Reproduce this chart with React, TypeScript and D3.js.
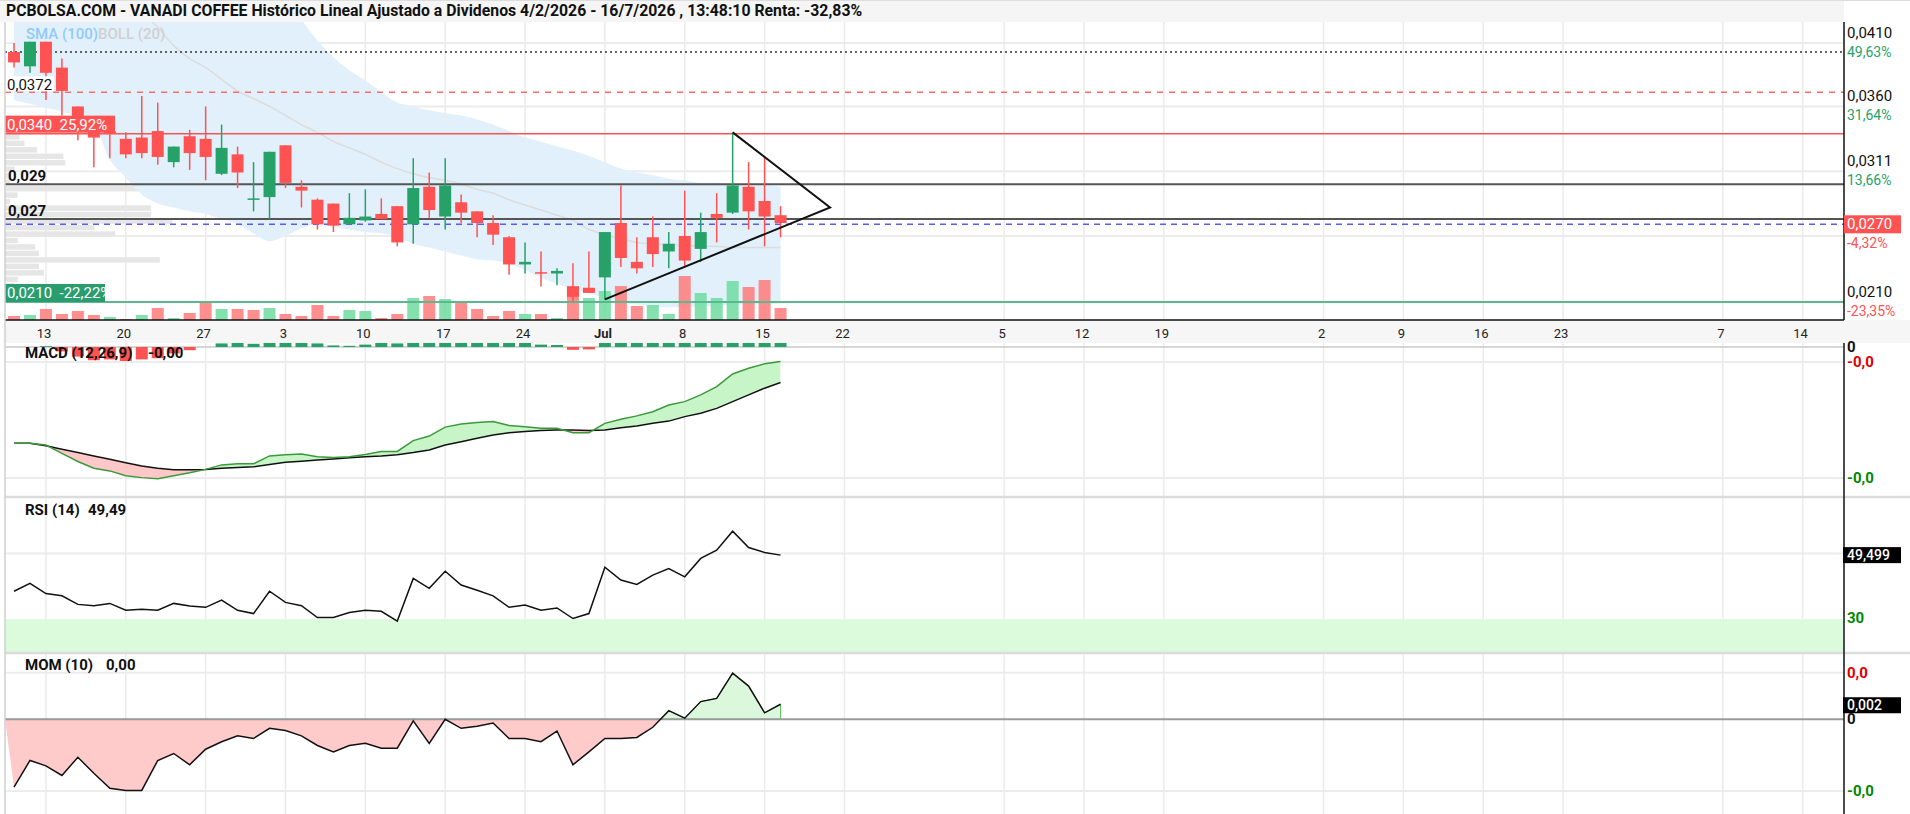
import React from "react";
import * as d3 from "d3";

const W = 1910;
const H = 814;

// daily candles, 11 May -> 16 Jul 2026 (trading days)
const opens = [0.0403, 0.0392, 0.0411, 0.0391, 0.0361, 0.0342, 0.0342, 0.0336, 0.0337, 0.0342, 0.0318, 0.0338, 0.0336, 0.0309, 0.0324, 0.0289, 0.0291, 0.0331, 0.0299, 0.0289, 0.0286, 0.0270, 0.0273, 0.0278, 0.0284, 0.0270, 0.0299, 0.0276, 0.0287, 0.0280, 0.0271, 0.0260, 0.0239, 0.0233, 0.0232, 0.0222, 0.0221, 0.0229, 0.0271, 0.0241, 0.0260, 0.0249, 0.0261, 0.0251, 0.0278, 0.0279, 0.0299, 0.0288, 0.0277];
const highs = [0.0410, 0.0411, 0.0411, 0.0398, 0.0361, 0.0344, 0.0351, 0.0341, 0.0369, 0.0364, 0.0330, 0.0343, 0.0361, 0.0347, 0.0330, 0.0318, 0.0326, 0.0331, 0.0304, 0.0290, 0.0286, 0.0294, 0.0297, 0.0290, 0.0284, 0.0321, 0.0310, 0.0321, 0.0293, 0.0280, 0.0277, 0.0261, 0.0256, 0.0249, 0.0236, 0.0240, 0.0249, 0.0264, 0.0300, 0.0260, 0.0276, 0.0264, 0.0296, 0.0279, 0.0294, 0.0341, 0.0318, 0.0322, 0.0284];
const lows = [0.0391, 0.0387, 0.0366, 0.0354, 0.0335, 0.0314, 0.0321, 0.0321, 0.0321, 0.0316, 0.0314, 0.0312, 0.0304, 0.0308, 0.0298, 0.0280, 0.0274, 0.0298, 0.0283, 0.0266, 0.0264, 0.0270, 0.0272, 0.0274, 0.0253, 0.0255, 0.0275, 0.0266, 0.0271, 0.0260, 0.0254, 0.0231, 0.0232, 0.0222, 0.0223, 0.0210, 0.0217, 0.0212, 0.0237, 0.0232, 0.0237, 0.0236, 0.0238, 0.0241, 0.0256, 0.0278, 0.0266, 0.0253, 0.0260];
const closes = [0.0395, 0.0411, 0.0387, 0.0373, 0.0352, 0.0337, 0.0340, 0.0324, 0.0325, 0.0322, 0.0330, 0.0325, 0.0322, 0.0329, 0.0310, 0.0290, 0.0326, 0.0302, 0.0296, 0.0270, 0.0269, 0.0275, 0.0276, 0.0274, 0.0256, 0.0298, 0.0281, 0.0300, 0.0279, 0.0271, 0.0262, 0.0239, 0.0241, 0.0232, 0.0234, 0.0214, 0.0217, 0.0264, 0.0244, 0.0236, 0.0247, 0.0255, 0.0242, 0.0264, 0.0275, 0.0300, 0.0280, 0.0276, 0.0271];
// volume, thousands
const volumes = [40, 50, 110, 60, 90, 50, 30, 10, 50, 120, 20, 70, 170, 110, 110, 100, 120, 60, 40, 150, 40, 100, 90, 20, 60, 220, 240, 210, 170, 110, 40, 90, 60, 60, 20, 340, 220, 290, 340, 140, 150, 60, 440, 270, 220, 390, 330, 400, 120];

// bollinger (20)
const bbUpper = [0.0614, 0.0609, 0.0600, 0.0591, 0.0583, 0.0577, 0.0590, 0.0588, 0.0575, 0.0558, 0.0533, 0.0516, 0.0504, 0.0490, 0.0476, 0.0471, 0.0465, 0.0447, 0.0428, 0.0412, 0.0399, 0.0389, 0.0381, 0.0372, 0.0364, 0.0361, 0.0358, 0.0356, 0.0354, 0.0351, 0.0347, 0.0342, 0.0337, 0.0334, 0.0330, 0.0327, 0.0323, 0.0318, 0.0313, 0.0310, 0.0308, 0.0305, 0.0304, 0.0302, 0.0302, 0.0301, 0.0300, 0.0300, 0.0299];
const bbMid = [0.0490, 0.0486, 0.0480, 0.0474, 0.0468, 0.0462, 0.0455, 0.0447, 0.0434, 0.0422, 0.0408, 0.0398, 0.0391, 0.0382, 0.0373, 0.0367, 0.0361, 0.0354, 0.0347, 0.0341, 0.0334, 0.0329, 0.0324, 0.0318, 0.0313, 0.0309, 0.0306, 0.0304, 0.0301, 0.0297, 0.0294, 0.0289, 0.0285, 0.0281, 0.0277, 0.0273, 0.0266, 0.0262, 0.0259, 0.0256, 0.0255, 0.0254, 0.0254, 0.0253, 0.0253, 0.0252, 0.0252, 0.0252, 0.0252];
const bbLower = [0.0366, 0.0363, 0.0360, 0.0357, 0.0353, 0.0347, 0.0320, 0.0306, 0.0293, 0.0286, 0.0283, 0.0280, 0.0278, 0.0274, 0.0270, 0.0263, 0.0257, 0.0261, 0.0267, 0.0270, 0.0268, 0.0266, 0.0264, 0.0263, 0.0260, 0.0255, 0.0252, 0.0249, 0.0246, 0.0243, 0.0242, 0.0240, 0.0235, 0.0229, 0.0224, 0.0220, 0.0217, 0.0213, 0.0210, 0.0208, 0.0207, 0.0206, 0.0206, 0.0207, 0.0207, 0.0208, 0.0208, 0.0208, 0.0209];

// MACD (12,26,9)
const macdLine = [-0.00257, -0.00257, -0.00262, -0.00284, -0.00306, -0.00324, -0.00331, -0.00344, -0.00349, -0.00352, -0.00344, -0.00336, -0.00327, -0.00315, -0.00312, -0.00312, -0.00291, -0.00288, -0.00286, -0.00293, -0.00295, -0.00293, -0.00287, -0.00279, -0.00279, -0.00250, -0.00238, -0.00214, -0.00206, -0.00202, -0.00199, -0.00210, -0.00213, -0.00217, -0.00217, -0.00229, -0.00229, -0.00204, -0.00193, -0.00184, -0.00173, -0.00155, -0.00146, -0.00128, -0.00106, -0.00072, -0.00057, -0.00045, -0.00039];
const macdSignal = [-0.00257, -0.00257, -0.00264, -0.00273, -0.00282, -0.00291, -0.00300, -0.00309, -0.00318, -0.00324, -0.00328, -0.00328, -0.00327, -0.00324, -0.00322, -0.00320, -0.00314, -0.00308, -0.00305, -0.00302, -0.00299, -0.00296, -0.00293, -0.00291, -0.00288, -0.00282, -0.00275, -0.00262, -0.00253, -0.00244, -0.00235, -0.00229, -0.00226, -0.00223, -0.00222, -0.00222, -0.00223, -0.00222, -0.00216, -0.00211, -0.00204, -0.00198, -0.00186, -0.00177, -0.00164, -0.00146, -0.00128, -0.00110, -0.00095];

// RSI (14)
const rsiValues = [38.5, 40.9, 37.8, 37.1, 34.5, 34.1, 34.8, 32.7, 33.0, 32.7, 34.8, 34.0, 33.6, 35.8, 32.7, 31.7, 38.5, 35.1, 34.1, 30.5, 30.5, 32.0, 32.7, 32.4, 29.4, 42.4, 39.4, 44.6, 40.4, 38.8, 37.1, 33.6, 34.3, 32.7, 33.4, 30.2, 31.7, 45.8, 41.9, 40.6, 43.4, 45.4, 42.9, 48.5, 51.0, 56.8, 51.8, 50.3, 49.5];

// MOM (10)
const momValues = [-0.0127, -0.0077, -0.0087, -0.0105, -0.0071, -0.0101, -0.0129, -0.0133, -0.0133, -0.0077, -0.0064, -0.0085, -0.0056, -0.0042, -0.0031, -0.0036, -0.0017, -0.0021, -0.0031, -0.0049, -0.0061, -0.0049, -0.0045, -0.0054, -0.0054, -0.0003, -0.0045, 0.0000, -0.0017, -0.0013, -0.0007, -0.0036, -0.0036, -0.0042, -0.0022, -0.0085, -0.0061, -0.0036, -0.0036, -0.0034, -0.0015, 0.0016, 0.0002, 0.0033, 0.0039, 0.0086, 0.0062, 0.0012, 0.0028];

// volume profile (bin floor price, volume)
const profilePrices = [0.0205, 0.0210, 0.0215, 0.0220, 0.0225, 0.0230, 0.0235, 0.0240, 0.0245, 0.0250, 0.0255, 0.0260, 0.0265, 0.0270, 0.0275, 0.0280, 0.0285, 0.0290, 0.0295, 0.0300, 0.0305, 0.0310, 0.0315, 0.0320, 0.0325, 0.0330, 0.0335, 0.0340];
const profileVols = [0, 5, 8, 10, 13, 40, 35, 159, 35, 31, 13, 113, 92, 172, 150, 150, 5, 13, 188, 5, 5, 10, 62, 60, 33, 20, 15, 12];

// x axis (trading-day index of each label)
const tickIdx = [2, 7, 12, 17, 22, 27, 32, 37, 42, 47, 52, 62, 67, 72, 82, 87, 92, 97, 107, 112];
const tickLabels = ["13", "20", "27", "3", "10", "17", "24", "Jul", "8", "15", "22", "5", "12", "19", "2", "9", "16", "23", "7", "14"];

// price axis
const priceTicks = [0.041, 0.0361, 0.0311, 0.0261, 0.021];
const priceTickLabels = ["0,0410", "0,0360", "0,0311", "", "0,0210"];
const priceTickPcts = ["49,63%", "31,64%", "13,66%", "", "-23,35%"];
const lastPrice = 0.027;

// drawn levels
const dottedLevel = 0.0403;
const dashedLevel = 0.0372;
const resistLevel = 0.034;
const level029 = 0.0301;
const level027 = 0.0274;
const supportLevel = 0.021;

// triangle drawing: upper start, apex, lower start
const triIdx = [45, 51.1, 37];
const triPrice = [0.0341, 0.0283, 0.0212];

const GREEN = "#26a269";
const RED = "#ff5252";
const FONT = "Roboto, 'Liberation Sans', sans-serif";

export default function App() {
  const idx = d3.range(closes.length);
  const plotL = 5;
  const plotR = 1844;

  const x = d3.scaleLinear().domain([0, 112]).range([14, 14 + 112 * 15.97]);
  const yP = d3.scaleLinear().domain([0.041, 0.021]).range([43, 302]);
  const yV = d3.scaleLinear().domain([0, d3.max(volumes) as number]).range([320, 276]);
  const wProf = d3.scaleLinear().domain([0, d3.max(profileVols) as number]).range([0, 183]);
  const yM = d3.scaleLinear().domain([0, -0.0035]).range([347, 478]);
  const yH = d3.scaleLinear().domain([0, -0.0004]).range([347, 363]);
  const yR = d3.scaleLinear().domain([20, 67.2]).range([652, 497]);
  const yMo = d3.scaleLinear().domain([0.012, -0.0177]).range([655, 814]);

  const bandPath = d3
    .area<number>()
    .x((i) => x(i))
    .y0((i) => yP(bbLower[i]))
    .y1((i) => yP(bbUpper[i]))
    .curve(d3.curveMonotoneX)(idx);
  const midPath = d3
    .line<number>()
    .x((i) => x(i))
    .y((i) => yP(bbMid[i]))
    .curve(d3.curveMonotoneX)(idx);

  const lineOf = (vals: number[], ys: any) =>
    d3
      .line<number>()
      .x((i) => x(i))
      .y((i) => ys(vals[i]))(idx);

  const macdFill = d3
    .area<number>()
    .x((i) => x(i))
    .y0((i) => yM(macdSignal[i]))
    .y1((i) => yM(macdLine[i]))(idx);
  const aboveSignal = d3
    .area<number>()
    .x((i) => x(i))
    .y0(343)
    .y1((i) => yM(macdSignal[i]))(idx);
  const belowSignal = d3
    .area<number>()
    .x((i) => x(i))
    .y0((i) => yM(macdSignal[i]))
    .y1(497)(idx);

  // fill starts at the panel's left edge on the zero line
  const startIdx = x.invert(plotL);
  const momFill = d3
    .area<number>()
    .x((i) => x(i))
    .y0(yMo(0))
    .y1((i) => (i < 0 ? yMo(0) : yMo(momValues[i])))([startIdx, ...idx]);

  const triPath = d3.line<number>().x((k) => x(triIdx[k])).y((k) => yP(triPrice[k]))([0, 1, 2]);

  const hLine = (p: number, stroke: string, sw: number, dash?: string) => (
    <line x1={plotL} x2={plotR} y1={yP(p)} y2={yP(p)} stroke={stroke} strokeWidth={sw} strokeDasharray={dash} />
  );

  return (
    <div style={{ width: W, height: H, background: "#fff" }}>
      <style>{"html,body{margin:0;padding:0;background:#fff}"}</style>
      <svg width={W} height={H} style={{ display: "block", fontFamily: FONT }}>
        <defs>
          <clipPath id="cp-price">
            <rect x={plotL} y={22} width={plotR - plotL} height={298} />
          </clipPath>
          <clipPath id="cp-macd">
            <rect x={plotL} y={343} width={plotR - plotL} height={154} />
          </clipPath>
          <clipPath id="cp-above">
            <path d={aboveSignal || ""} />
          </clipPath>
          <clipPath id="cp-below">
            <path d={belowSignal || ""} />
          </clipPath>
          <clipPath id="cp-mom-pos">
            <rect x={plotL} y={653} width={plotR - plotL} height={yMo(0) - 653} />
          </clipPath>
          <clipPath id="cp-mom-neg">
            <rect x={plotL} y={yMo(0)} width={plotR - plotL} height={814 - yMo(0)} />
          </clipPath>
        </defs>

        {/* title bar */}
        <rect x={0} y={0} width={plotR} height={22} fill="#f5f5f5" />
        <line x1={0} x2={W} y1={0.5} y2={0.5} stroke="#ddd" />
        <text x={6} y={16} fontSize={15.8} fontWeight="bold" fill="#111">
          PCBOLSA.COM - VANADI COFFEE Histórico Lineal Ajustado a Dividenos 4/2/2026 - 16/7/2026 , 13:48:10 Renta: -32,83%
        </text>

        {/* grid */}
        {priceTicks.map((p, k) => (
          <line key={"pg" + k} x1={plotL} x2={plotR} y1={yP(p)} y2={yP(p)} stroke="#ececec" strokeWidth={2} />
        ))}
        {tickIdx.map((t, k) => (
          <g key={"vg" + k}>
            <line x1={x(t)} x2={x(t)} y1={22} y2={320} stroke="#ebebeb" strokeWidth={1.5} />
            <line x1={x(t)} x2={x(t)} y1={343} y2={814} stroke="#ebebeb" strokeWidth={1.5} />
          </g>
        ))}

        {/* price panel */}
        <g clipPath="url(#cp-price)">
          {profilePrices.map((p, k) => (
            <rect
              key={"pf" + k}
              x={plotL}
              y={yP(p + 0.0005) + 0.5}
              width={wProf(profileVols[k])}
              height={Math.max(0, yP(p) - yP(p + 0.0005) - 1)}
              fill="#e6e6e6"
            />
          ))}
          <path d={bandPath || ""} fill="#e1f0fb" />
          <path d={midPath || ""} fill="none" stroke="#dcdcdc" strokeWidth={1.5} />
          {idx.map((i) => {
            const up = i === 0 ? closes[i] >= opens[i] : closes[i] >= closes[i - 1];
            return (
              <rect
                key={"v" + i}
                x={x(i) - 6}
                y={yV(volumes[i])}
                width={12}
                height={320 - yV(volumes[i])}
                fill={up ? "#6fdca0" : "#ff7a7a"}
                opacity={0.85}
              />
            );
          })}
        </g>

        {hLine(dottedLevel, "#333", 1.5, "2 3")}
        {hLine(dashedLevel, "#ff6b6b", 1.5, "6 6")}
        {hLine(resistLevel, RED, 1.5)}
        {hLine(level029, "#555", 2)}
        {hLine(level027, "#555", 2)}
        {hLine(lastPrice, "#5b5bf5", 1.5, "6 5")}
        {hLine(supportLevel, "#5cb88c", 2)}

        {/* candles */}
        {idx.map((i) => {
          const up = closes[i] >= opens[i];
          const c = up ? GREEN : RED;
          const top = yP(Math.max(opens[i], closes[i]));
          const bot = yP(Math.min(opens[i], closes[i]));
          return (
            <g key={"c" + i}>
              <line x1={x(i)} x2={x(i)} y1={yP(highs[i])} y2={yP(lows[i])} stroke={c} strokeWidth={1.5} />
              <rect x={x(i) - 6} y={top} width={12} height={Math.max(1.5, bot - top)} fill={c} />
            </g>
          );
        })}

        <path d={triPath || ""} fill="none" stroke="#111" strokeWidth={2} />

        {/* left labels */}
        <text x={26} y={39} fontSize={15} fontWeight={500}>
          <tspan fill="#90caf9">SMA (100)</tspan>
          <tspan fill="#d0d0d0">BOLL (20)</tspan>
        </text>
        <rect x={plotL} y={yP(dashedLevel) - 16} width={49} height={15} fill="#fff" />
        <text x={7} y={yP(dashedLevel) - 2.5} fontSize={15} fill="#111">0,0372</text>
        <rect x={plotL} y={yP(resistLevel) - 18} width={110} height={17} fill={RED} />
        <text x={7} y={yP(resistLevel) - 4} fontSize={15} fill="#fff" xmlSpace="preserve">0,0340  25,92%</text>
        <text x={8} y={yP(level029) - 3} fontSize={15} fontWeight="bold" fill="#111">0,029</text>
        <text x={8} y={yP(level027) - 3} fontSize={15} fontWeight="bold" fill="#111">0,027</text>
        <svg x={plotL} y={yP(supportLevel) - 18} width={100} height={18} overflow="hidden">
          <rect x={0} y={0} width={100} height={18} fill="#2a9d6f" />
          <text x={2} y={14} fontSize={15} fill="#fff" xmlSpace="preserve">0,0210  -22,22%</text>
        </svg>

        {/* x axis band */}
        <rect x={plotL} y={320} width={W - plotL} height={23} fill="#f6f6f6" />
        <line x1={plotL} x2={plotR} y1={320} y2={320} stroke="#111" strokeWidth={1.5} />
        {tickIdx.map((t, k) => (
          <text
            key={"xl" + k}
            x={x(t) - 2}
            y={338}
            fontSize={13}
            textAnchor="middle"
            fill="#222"
            fontWeight={tickLabels[k] === "Jul" ? "bold" : "normal"}
          >
            {tickLabels[k]}
          </text>
        ))}

        {/* MACD panel */}
        <line x1={plotL} x2={plotR} y1={347} y2={347} stroke="#c8c8c8" strokeWidth={1.5} />
        <line x1={plotL} x2={plotR} y1={yM(-0.0004)} y2={yM(-0.0004)} stroke="#ececec" strokeWidth={2} />
        <line x1={plotL} x2={plotR} y1={yM(-0.0035)} y2={yM(-0.0035)} stroke="#ececec" strokeWidth={2} />
        <g clipPath="url(#cp-macd)">
          {idx.map((i) => {
            const d = macdLine[i] - macdSignal[i];
            const y0 = yH(0);
            const y1 = yH(d);
            return (
              <rect
                key={"h" + i}
                x={x(i) - 6}
                y={Math.min(y0, y1)}
                width={12}
                height={Math.abs(y1 - y0)}
                fill={d >= 0 ? GREEN : RED}
              />
            );
          })}
          <path d={macdFill || ""} fill="#c8f5c8" clipPath="url(#cp-above)" />
          <path d={macdFill || ""} fill="#ffc8c8" clipPath="url(#cp-below)" />
          <path d={lineOf(macdSignal, yM) || ""} fill="none" stroke="#111" strokeWidth={1.5} />
          <path d={lineOf(macdLine, yM) || ""} fill="none" stroke="#3a9a3a" strokeWidth={1.5} />
        </g>
        <text x={25} y={358} fontSize={15} fontWeight="bold" fill="#111">MACD (12,26,9)</text>
        <text x={148} y={358} fontSize={15} fontWeight="bold" fill="#111">-0,00</text>

        {/* RSI panel */}
        <line x1={plotL} x2={W} y1={497} y2={497} stroke="#dcdcdc" strokeWidth={2.5} />
        <line x1={plotL} x2={plotR} y1={yR(50)} y2={yR(50)} stroke="#ececec" strokeWidth={2} />
        <rect x={plotL} y={yR(30)} width={plotR - plotL} height={yR(20) - yR(30)} fill="#dcfadc" />
        <path d={lineOf(rsiValues, yR) || ""} fill="none" stroke="#111" strokeWidth={1.5} />
        <text x={25} y={515} fontSize={15} fontWeight="bold" fill="#111">RSI (14)</text>
        <text x={88} y={515} fontSize={15} fontWeight="bold" fill="#111">49,49</text>

        {/* MOM panel */}
        <line x1={plotL} x2={W} y1={653} y2={653} stroke="#dcdcdc" strokeWidth={2.5} />
        <line x1={plotL} x2={plotR} y1={yMo(0.0087)} y2={yMo(0.0087)} stroke="#ececec" strokeWidth={2} />
        <line x1={plotL} x2={plotR} y1={yMo(-0.0134)} y2={yMo(-0.0134)} stroke="#ececec" strokeWidth={2} />
        <path d={momFill || ""} fill="#ffcaca" clipPath="url(#cp-mom-neg)" />
        <path d={momFill || ""} fill="#dcf8dc" stroke="#5cbf5c" strokeWidth={1} clipPath="url(#cp-mom-pos)" />
        <line x1={plotL} x2={plotR} y1={yMo(0)} y2={yMo(0)} stroke="#9a9a9a" strokeWidth={2} />
        <path d={lineOf(momValues, yMo) || ""} fill="none" stroke="#111" strokeWidth={1.5} />
        <text x={25} y={670} fontSize={15} fontWeight="bold" fill="#111">MOM (10)</text>
        <text x={106} y={670} fontSize={15} fontWeight="bold" fill="#111">0,00</text>

        {/* frame */}
        <line x1={plotL} x2={plotL} y1={22} y2={H} stroke="#cfcfcf" strokeWidth={1.5} />
        <line x1={plotR} x2={plotR} y1={22} y2={320} stroke="#111" strokeWidth={1.5} />
        <line x1={plotR} x2={plotR} y1={343} y2={H} stroke="#111" strokeWidth={1.5} />

        {/* right price axis */}
        {priceTicks.map((p, k) =>
          priceTickLabels[k] ? (
            <g key={"pl" + k}>
              <text x={1847} y={yP(p) - 5} fontSize={15} fill="#111">{priceTickLabels[k]}</text>
              <text
                x={1847}
                y={yP(p) + 14}
                fontSize={14}
                fill={priceTickPcts[k].startsWith("-") ? RED : GREEN}
              >
                {priceTickPcts[k]}
              </text>
            </g>
          ) : null
        )}
        <rect x={plotR} y={yP(lastPrice) - 9} width={57} height={18} fill={RED} />
        <text x={1847} y={yP(lastPrice) + 5} fontSize={15} fill="#fff">0,0270</text>
        <text x={1847} y={yP(lastPrice) + 24} fontSize={14} fill={RED}>-4,32%</text>

        {/* right axis lower panels */}
        <text x={1847} y={352} fontSize={15} fontWeight="bold" fill="#111">0</text>
        <text x={1847} y={yM(-0.0004) + 5} fontSize={15} fontWeight="bold" fill="#e00000">-0,0</text>
        <text x={1847} y={yM(-0.0035) + 5} fontSize={15} fontWeight="bold" fill="#008800">-0,0</text>

        <rect x={plotR - 1} y={yR(49.5) - 8} width={58} height={16} fill="#000" />
        <text x={1847} y={yR(49.5) + 5} fontSize={14} fontWeight={500} fill="#fff">49,499</text>
        <text x={1847} y={yR(30) + 4} fontSize={15} fontWeight="bold" fill="#008800">30</text>

        <text x={1847} y={yMo(0.0087) + 5} fontSize={15} fontWeight="bold" fill="#e00000">0,0</text>
        <rect x={plotR - 1} y={yMo(momValues[momValues.length - 1]) - 7} width={58} height={16} fill="#000" />
        <text x={1847} y={yMo(momValues[momValues.length - 1]) + 6} fontSize={14} fontWeight={500} fill="#fff">0,002</text>
        <text x={1847} y={yMo(0) + 5} fontSize={15} fontWeight="bold" fill="#111">0</text>
        <text x={1847} y={yMo(-0.0134) + 5} fontSize={15} fontWeight="bold" fill="#008800">-0,0</text>
      </svg>
    </div>
  );
}
